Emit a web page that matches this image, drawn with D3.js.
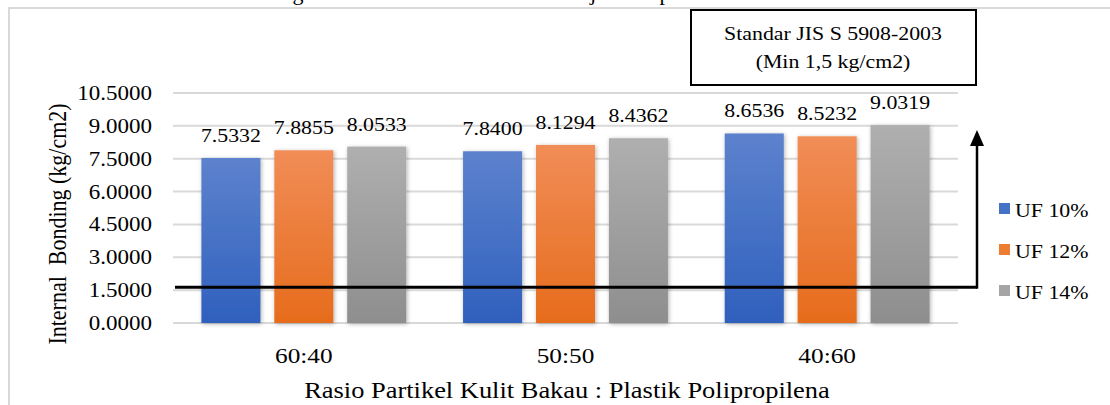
<!DOCTYPE html>
<html lang="en">
<head>
    <meta charset="UTF-8">
    <title>Internal Bonding</title>
    <script src="https://d3js.org/d3.v7.min.js"></script>
    <style>
        body { margin: 0; background: #fff; }
        svg text { font-family: "Liberation Serif", "Times New Roman", serif; fill: #000; }
    </style>
</head>
<body>
<div id="chart"></div>

<script>
const categories = ["60:40", "50:50", "40:60"];
const seriesNames = ["UF 10%", "UF 12%", "UF 14%"];
const uf10 = [7.5332, 7.8400, 8.6536];
const uf12 = [7.8855, 8.1294, 8.5232];
const uf14 = [8.0533, 8.4362, 9.0319];
const yTicks = [0, 1.5, 3, 4.5, 6, 7.5, 9, 10.5];
const standardValue = 1.5;
const standardLines = ["Standar JIS S 5908-2003", "(Min 1,5 kg/cm2)"];

const seriesValues = [uf10, uf12, uf14];
const colors = [
    { top: "#5d82cd", bottom: "#2f60bd", key: "#4472c4" },
    { top: "#f18d57", bottom: "#e66c1c", key: "#ed7d31" },
    { top: "#afafaf", bottom: "#8e8e8e", key: "#a5a5a5" }
];

const width = 1110, height = 405;
const plot = { left: 173, right: 958, top: 93, bottom: 323 };
const stretch = 1.15; // text in the picture is a bit wide

const svg = d3.select("#chart").append("svg")
    .attr("width", width)
    .attr("height", height);

const defs = svg.append("defs");
colors.forEach((c, i) => {
    const g = defs.append("linearGradient")
        .attr("id", "grad" + i)
        .attr("x1", 0).attr("y1", 0).attr("x2", 0).attr("y2", 1);
    g.append("stop").attr("offset", "0%").attr("stop-color", c.top);
    g.append("stop").attr("offset", "100%").attr("stop-color", c.bottom);
});
defs.append("filter")
    .attr("id", "shadow")
    .attr("x", "-20%").attr("y", "-20%").attr("width", "140%").attr("height", "140%")
    .append("feDropShadow")
    .attr("dx", 1).attr("dy", 1).attr("stdDeviation", 2)
    .attr("flood-color", "#000").attr("flood-opacity", 0.3);

// outer frame of the chart object
svg.append("path")
    .attr("d", `M9,${height} V8 H${width}`)
    .attr("fill", "none")
    .attr("stroke", "#d9d9d9")
    .attr("stroke-width", 2);

// descenders of the cut caption above the chart
[["g", 298], ["j", 593], ["p", 665]].forEach(([ch, cx]) => {
    svg.append("text")
        .attr("x", cx).attr("y", 0)
        .attr("text-anchor", "middle")
        .style("font-size", "22px")
        .text(ch);
});

const x0 = d3.scaleBand()
    .domain(categories)
    .range([plot.left, plot.right])
    .padding(0);

const groupW = x0.bandwidth() * 0.783;
const x1 = d3.scaleBand()
    .domain(seriesNames)
    .range([(x0.bandwidth() - groupW) / 2, (x0.bandwidth() + groupW) / 2])
    .paddingInner(0.19)
    .paddingOuter(0);

const y = d3.scaleLinear()
    .domain([0, 10.5])
    .range([plot.bottom, plot.top]);

// gridlines
svg.append("g")
    .selectAll("line")
    .data(yTicks)
    .join("line")
    .attr("x1", plot.left).attr("x2", plot.right)
    .attr("y1", d => y(d)).attr("y2", d => y(d))
    .attr("stroke", "#d9d9d9")
    .attr("stroke-width", 2);

// y tick labels
svg.append("g")
    .selectAll("text")
    .data(yTicks)
    .join("text")
    .attr("text-anchor", "end")
    .attr("transform", d => `translate(152,${y(d) + 7}) scale(${stretch},1)`)
    .style("font-size", "20px")
    .text(d => d.toFixed(4));

// bars
const groups = svg.append("g")
    .selectAll("g")
    .data(categories)
    .join("g")
    .attr("transform", d => `translate(${x0(d)},0)`);

groups.selectAll("rect")
    .data((d, ci) => seriesNames.map((s, si) => ({ s, si, v: seriesValues[si][ci] })))
    .join("rect")
    .attr("x", d => x1(d.s))
    .attr("y", d => y(d.v))
    .attr("width", x1.bandwidth())
    .attr("height", d => y(0) - y(d.v))
    .attr("fill", d => `url(#grad${d.si})`)
    .attr("filter", "url(#shadow)");

groups.selectAll("text")
    .data((d, ci) => seriesNames.map((s, si) => ({ s, si, v: seriesValues[si][ci] })))
    .join("text")
    .attr("text-anchor", "middle")
    .attr("transform", d => `translate(${x1(d.s) + x1.bandwidth() / 2},${y(d.v) - 16}) scale(${stretch},1)`)
    .style("font-size", "19px")
    .text(d => d.v.toFixed(4));

// x tick labels
svg.append("g")
    .selectAll("text")
    .data(categories)
    .join("text")
    .attr("text-anchor", "middle")
    .attr("transform", d => `translate(${x0(d) + x0.bandwidth() / 2},363) scale(${stretch},1)`)
    .style("font-size", "22px")
    .text(d => d);

// axis titles
svg.append("text")
    .attr("text-anchor", "middle")
    .attr("transform", `translate(567,398) scale(${stretch},1)`)
    .style("font-size", "23px")
    .text("Rasio Partikel Kulit Bakau : Plastik Polipropilena");

svg.append("text")
    .attr("text-anchor", "middle")
    .attr("transform", `translate(66,224) scale(${stretch},1) rotate(-90)`)
    .style("font-size", "22px")
    .style("white-space", "pre")
    .attr("xml:space", "preserve")
    .text("Internal  Bonding (kg/cm2)");

// standard line with arrow up to the note box
const lineY = y(standardValue) - 3;
const arrowX = 977;
svg.append("line")
    .attr("x1", plot.left + 2).attr("x2", arrowX)
    .attr("y1", lineY).attr("y2", lineY)
    .attr("stroke", "#000").attr("stroke-width", 3);
svg.append("line")
    .attr("x1", arrowX).attr("x2", arrowX)
    .attr("y1", lineY + 1.5).attr("y2", 144)
    .attr("stroke", "#000").attr("stroke-width", 2.5);
svg.append("path")
    .attr("d", `M${arrowX},130 L${arrowX - 7},146 L${arrowX + 7},146 Z`)
    .attr("fill", "#000");

// note box
svg.append("rect")
    .attr("x", 691).attr("y", 10)
    .attr("width", 285).attr("height", 75)
    .attr("fill", "#fff")
    .attr("stroke", "#000").attr("stroke-width", 2);
standardLines.forEach((t, i) => {
    svg.append("text")
        .attr("text-anchor", "middle")
        .attr("transform", `translate(833,${40 + i * 28}) scale(${stretch},1)`)
        .style("font-size", "19px")
        .text(t);
});

// legend
const legend = svg.append("g")
    .selectAll("g")
    .data(seriesNames)
    .join("g")
    .attr("transform", (d, i) => `translate(999,${203 + i * 41})`);
legend.append("rect")
    .attr("width", 11).attr("height", 11)
    .attr("fill", (d, i) => colors[i].key);
legend.append("text")
    .attr("transform", `translate(16,14) scale(${stretch},1)`)
    .style("font-size", "19px")
    .text(d => d);
</script>
</body>
</html>
